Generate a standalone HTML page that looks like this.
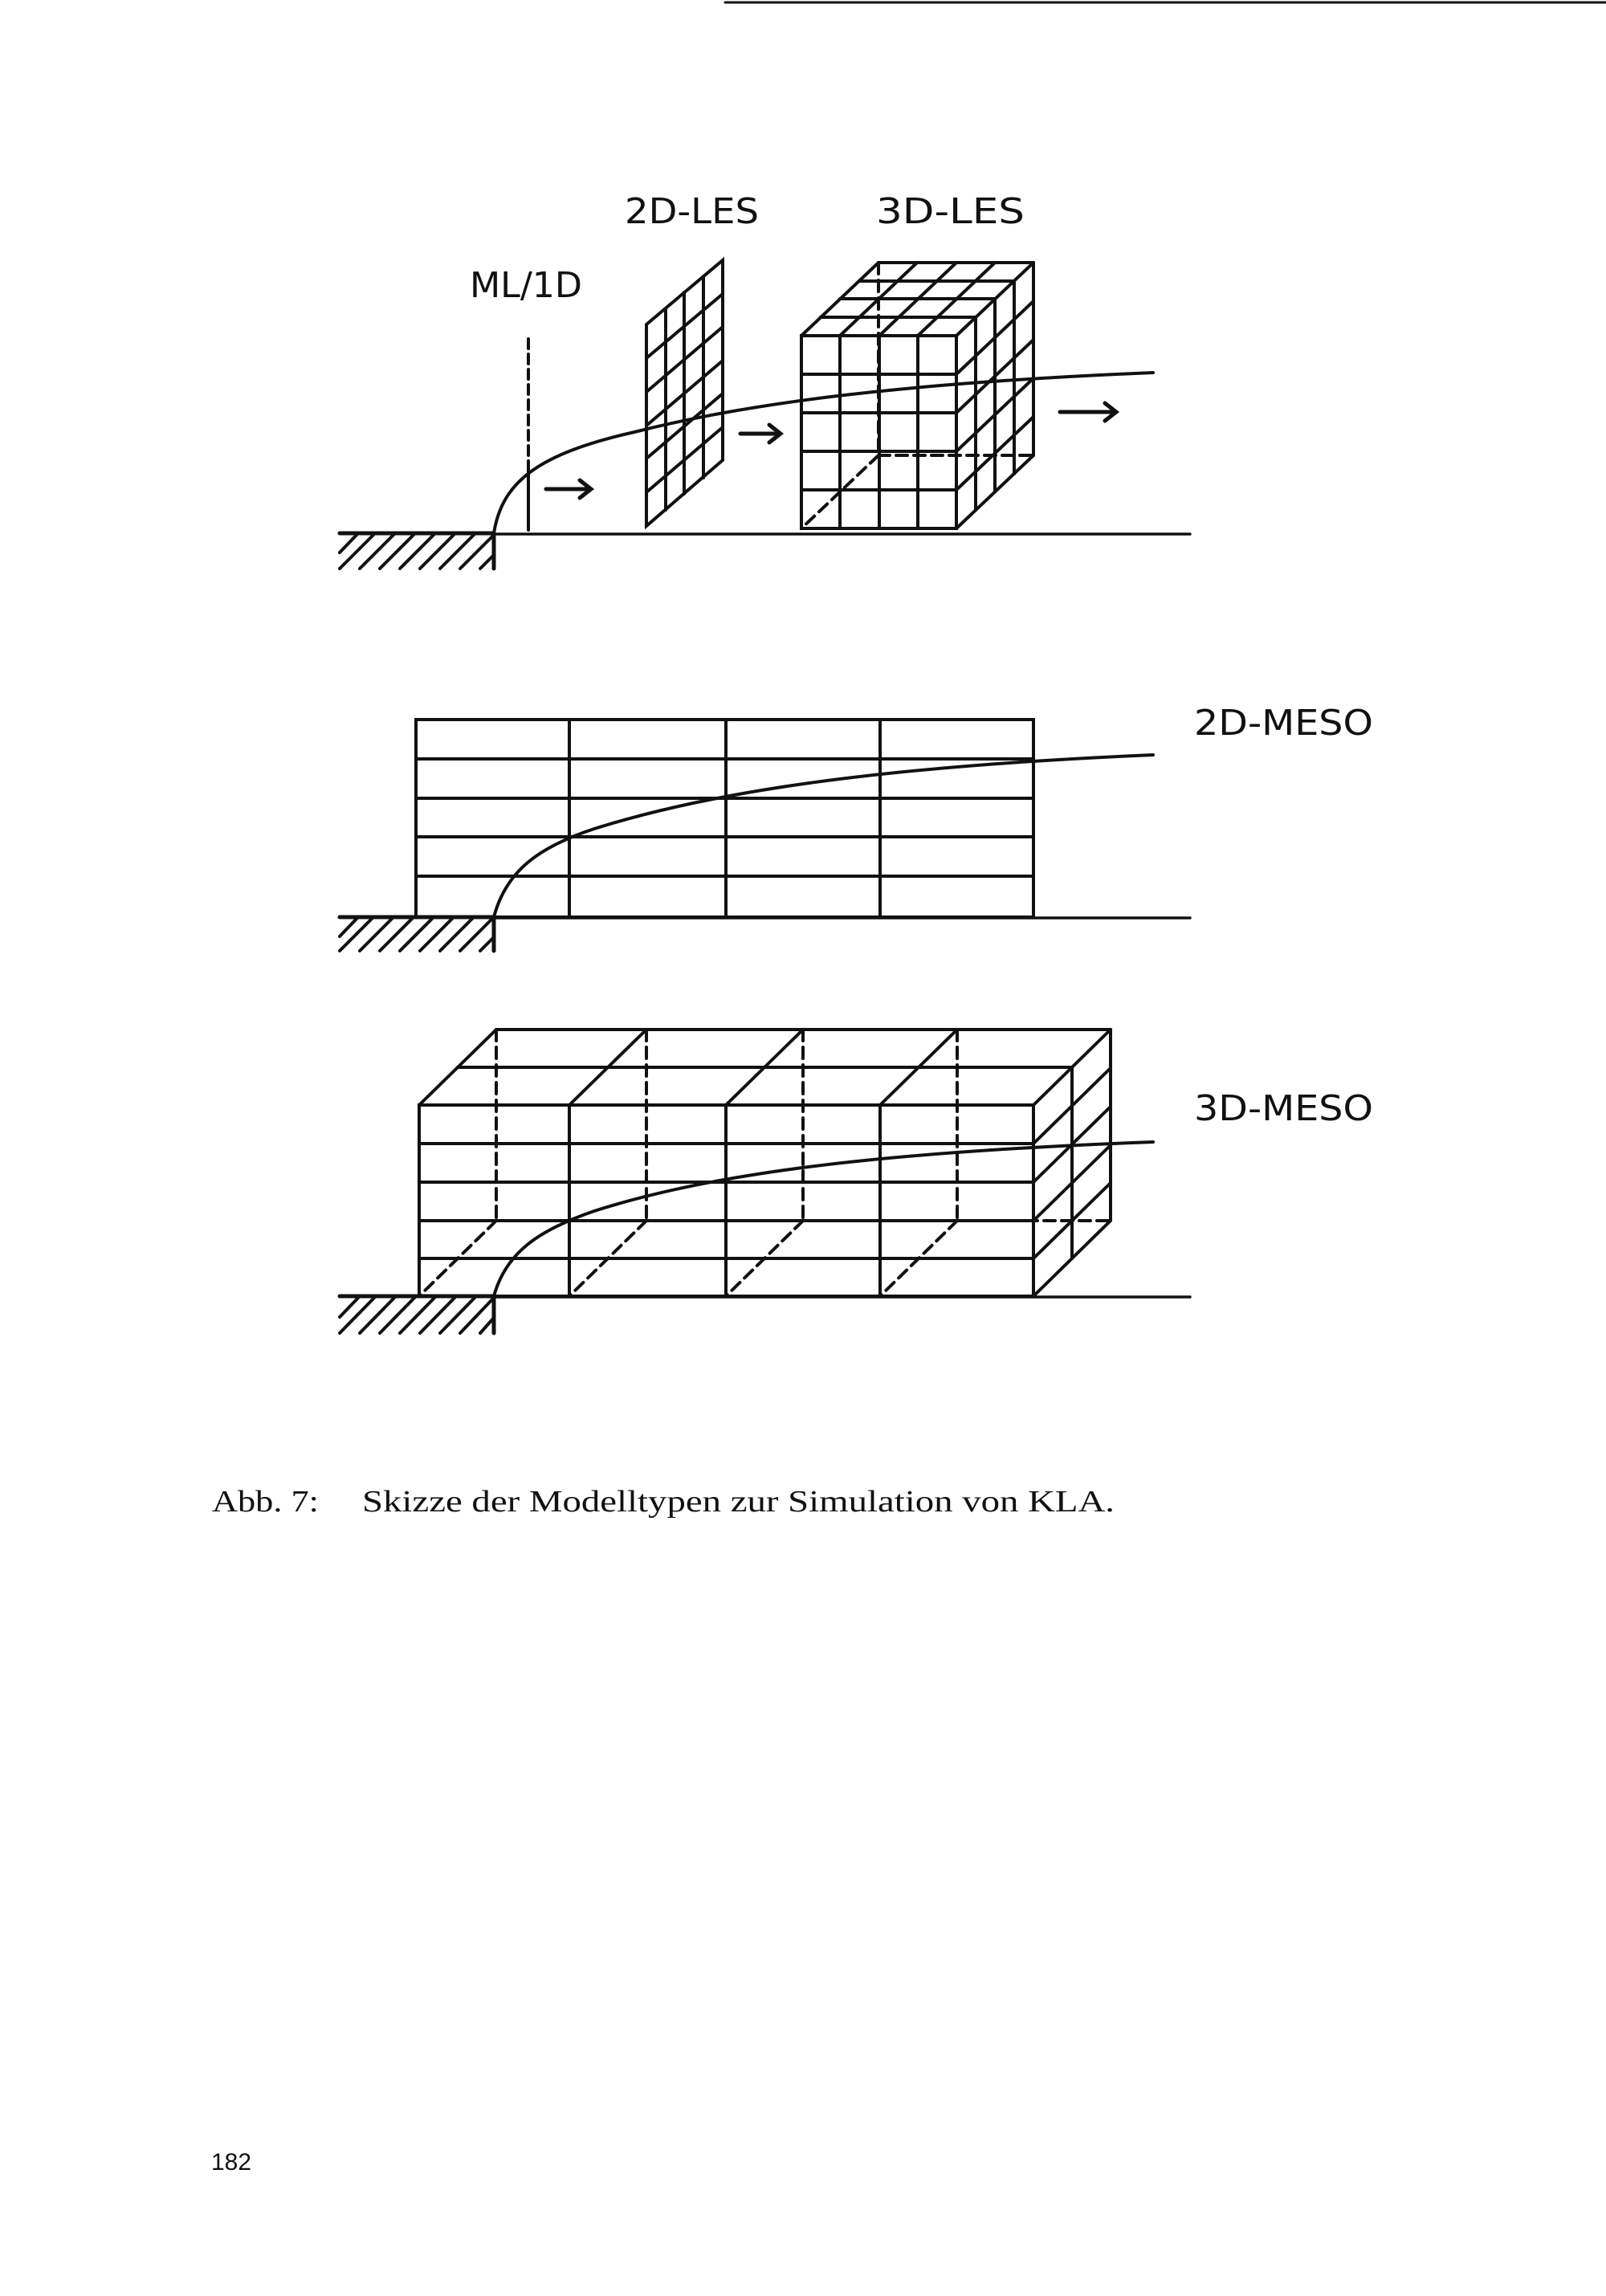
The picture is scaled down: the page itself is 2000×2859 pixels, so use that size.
<!DOCTYPE html>
<html><head><meta charset="utf-8"><style>
html,body{margin:0;padding:0;background:#fff;}
svg{display:block}
text{fill:#111}
</style></head><body>
<svg width="2000" height="2859" viewBox="0 0 2000 2859" xmlns="http://www.w3.org/2000/svg">
<g stroke="#111" fill="none" stroke-width="4" stroke-linecap="round">
<line x1="903" y1="3" x2="2000" y2="3" stroke-width="3"/>

<!-- ===== TOP: LES ===== -->
<line x1="423" y1="664" x2="615" y2="664" stroke-width="5"/>
<line x1="615" y1="665" x2="1482" y2="665" stroke-width="3.5"/>
<line x1="615" y1="664" x2="615" y2="708" stroke-width="5"/>
<path d="M423,688 L446,664 M423,708 L467,664 M448,708 L492,664 M473,708 L517,664 M498,708 L542,664 M523,708 L567,664 M548,708 L592,664 M573,708 L614,667 M598,708 L614,692"/>
<line x1="658" y1="422" x2="658" y2="582" stroke-dasharray="12 7"/>
<line x1="658" y1="582" x2="658" y2="660"/>
<path d="M680,609 L735,609 M722,598 L736,609 L722,620" stroke-width="5"/>
<path d="M615,664 C625,600 670,565 790,538 C920,505 1100,478 1436,464"/>
<path d="M805,404 L900,324 L900,573 L805,655 Z"/>
<path d="M829,384 L829,635 M852,364 L852,615 M876,344 L876,595"/>
<path d="M805,446 L900,366 M805,488 L900,407 M805,530 L900,449 M805,571 L900,490 M805,613 L900,532"/>
<path d="M922,540 L972,540 M958,529 L972,540 L958,551" stroke-width="5"/>
<rect x="998" y="418" width="193" height="240"/>
<path d="M1046,418 V658 M1095,418 V658 M1143,418 V658"/>
<path d="M998,466 H1191 M998,514 H1191 M998,562 H1191 M998,610 H1191"/>
<path d="M1022,395 H1215 M1046,372 H1239 M1070,350 H1263 M1094,327 H1287"/>
<path d="M998,418 L1094,327 M1046,418 L1142,327 M1095,418 L1191,327 M1143,418 L1239,327 M1191,418 L1287,327"/>
<path d="M1215,395 V635 M1239,372 V612 M1263,350 V590 M1287,327 V567"/>
<path d="M1191,466 L1287,375 M1191,514 L1287,423 M1191,562 L1287,471 M1191,610 L1287,519 M1191,658 L1287,567"/>
<path d="M1094,327 V567 M1094,567 H1287 M1094,567 L998,658" stroke-dasharray="14 8"/>
<path d="M1320,513 L1390,513 M1376,502 L1390,513 L1376,524" stroke-width="5"/>

<!-- ===== 2D-MESO ===== -->
<line x1="423" y1="1142" x2="615" y2="1142" stroke-width="5"/>
<line x1="615" y1="1143" x2="1482" y2="1143" stroke-width="3.5"/>
<line x1="615" y1="1142" x2="615" y2="1184" stroke-width="5"/>
<path d="M423,1166 L446,1142 M423,1184 L465,1142 M448,1184 L490,1142 M473,1184 L515,1142 M498,1184 L540,1142 M523,1184 L565,1142 M548,1184 L590,1142 M573,1184 L614,1143 M598,1184 L614,1168"/>
<rect x="518" y="896" width="769" height="246"/>
<path d="M709,896 V1142 M904,896 V1142 M1096,896 V1142"/>
<path d="M518,945 H1287 M518,994 H1287 M518,1042 H1287 M518,1091 H1287"/>
<path d="M615,1142 C630,1085 670,1055 740,1032 C880,988 1080,955 1436,940"/>

<!-- ===== 3D-MESO ===== -->
<line x1="423" y1="1614" x2="615" y2="1614" stroke-width="5"/>
<line x1="615" y1="1615" x2="1482" y2="1615" stroke-width="3.5"/>
<line x1="615" y1="1614" x2="615" y2="1660" stroke-width="5"/>
<path d="M423,1640 L448,1614 M423,1660 L468,1614 M448,1660 L493,1614 M473,1660 L518,1614 M498,1660 L543,1614 M523,1660 L568,1614 M548,1660 L593,1614 M573,1660 L614,1617 M598,1660 L614,1642"/>
<rect x="522" y="1376" width="765" height="238"/>
<path d="M709,1376 V1614 M904,1376 V1614 M1096,1376 V1614"/>
<path d="M522,1424 H1287 M522,1472 H1287 M522,1520 H1287 M522,1567 H1287"/>
<path d="M570,1329 H1335 M618,1282 H1383"/>
<path d="M522,1376 L618,1282 M709,1376 L805,1282 M904,1376 L1000,1282 M1096,1376 L1192,1282 M1287,1376 L1383,1282"/>
<path d="M1335,1329 V1567 M1383,1282 V1520"/>
<path d="M1287,1424 L1383,1330 M1287,1472 L1383,1378 M1287,1520 L1383,1426 M1287,1567 L1383,1473 M1287,1614 L1383,1520"/>
<path d="M618,1282 V1520 M805,1282 V1520 M1000,1282 V1520 M1192,1282 V1520 M618,1520 H1383 M618,1520 L522,1614 M805,1520 L709,1614 M1000,1520 L904,1614 M1192,1520 L1096,1614" stroke-dasharray="14 8"/>
<path d="M615,1614 C630,1560 670,1532 740,1508 C880,1463 1080,1435 1436,1422"/>
</g>

<g font-family="'DejaVu Sans','Liberation Sans',sans-serif" font-size="44">
<text x="778" y="278" textLength="167" lengthAdjust="spacingAndGlyphs">2D-LES</text>
<text x="1091" y="278" textLength="185" lengthAdjust="spacingAndGlyphs">3D-LES</text>
<text x="585" y="370" textLength="140" lengthAdjust="spacingAndGlyphs">ML/1D</text>
<text x="1487" y="915" textLength="223" lengthAdjust="spacingAndGlyphs">2D-MESO</text>
<text x="1487" y="1395" textLength="223" lengthAdjust="spacingAndGlyphs">3D-MESO</text>
</g>
<g font-family="'Liberation Serif',serif" font-size="38">
<text x="264" y="1882" textLength="133" lengthAdjust="spacingAndGlyphs">Abb. 7:</text>
<text x="451" y="1882" textLength="937" lengthAdjust="spacingAndGlyphs">Skizze der Modelltypen zur Simulation von KLA.</text>
</g>
<text x="263" y="2702" font-family="'Liberation Sans',sans-serif" font-size="30" textLength="50" lengthAdjust="spacingAndGlyphs">182</text>
</svg>
</body></html>
